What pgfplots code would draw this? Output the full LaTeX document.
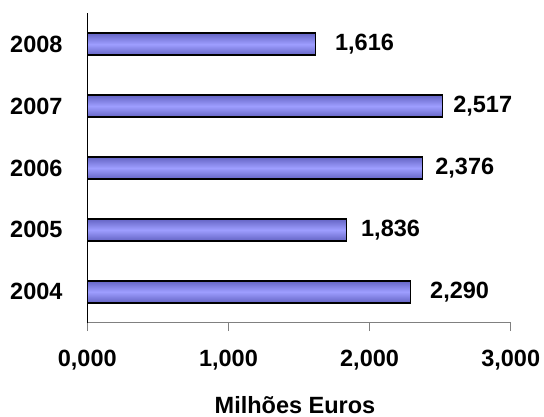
\documentclass[border=0pt]{standalone}
\usepackage{pgfplots}
\pgfplotsset{compat=1.18}
\usepackage{fontspec}
\setmainfont{Liberation Sans}

\definecolor{barEdge}{RGB}{100,100,196}
\definecolor{barMid}{RGB}{158,158,255}
\definecolor{axisGray}{RGB}{128,128,128}
\newcommand\lbl{\fontsize{23.5bp}{28bp}\selectfont\bfseries}

% one plot per bar so the shading is per bar; gap = space before the label
\pgfplotsset{
  anobar/.style={
    xbar, bar width=22bp, bar shift=0pt,
    draw=black, line width=1.5bp,
    top color=barEdge, bottom color=barEdge, middle color=barMid,
    nodes near coords={\pgfmathprintnumber[fixed, fixed zerofill, precision=3, use comma, assume math mode=true]{\pgfplotspointmeta}},
    every node near coord/.append style={font=\lbl, inner sep=0pt, anchor=west, xshift=#1, black},
  },
}

\begin{document}
\begin{tikzpicture}
\useasboundingbox (-87.3bp,-94.3bp) rectangle (456.7bp,322.7bp);
\begin{axis}[
  scale only axis,
  width=423.4bp, height=309.4bp,
  xmin=0, xmax=3, ymin=-0.5, ymax=4.5,
  axis x line*=bottom, axis y line*=left,
  x axis line style={draw=axisGray, line width=1.5bp, -},
  y axis line style={draw=black, line width=1bp, -},
  xtick={0,1,2,3},
  xticklabels={{0,000},{1,000},{2,000},{3,000}},
  ytick={0,1,2,3,4},
  yticklabels={2004,2005,2006,2007,2008},
  tick align=outside,
  major tick length=8.5bp,
  xtick style={draw=axisGray, line width=1.2bp},
  ytick style={draw=none},
  xticklabel style={font=\lbl, inner sep=0pt, anchor=north, yshift=-18.5bp},
  yticklabel style={font=\lbl, inner sep=0pt, anchor=east, xshift=-16.1bp},
  xlabel={Milhões Euros},
  xlabel style={font=\lbl, inner sep=0pt, anchor=base, at={(axis description cs:0.5,0)}, yshift=-90.5bp, xshift=-4bp},
  clip=false,
]
\addplot[anobar=19bp] coordinates {(2.290,0)}; % 2004
\addplot[anobar=14bp] coordinates {(1.836,1)}; % 2005
\addplot[anobar=12bp] coordinates {(2.376,2)}; % 2006
\addplot[anobar=10bp] coordinates {(2.517,3)}; % 2007
\addplot[anobar=19bp] coordinates {(1.616,4)}; % 2008
\end{axis}
\end{tikzpicture}
\end{document}
